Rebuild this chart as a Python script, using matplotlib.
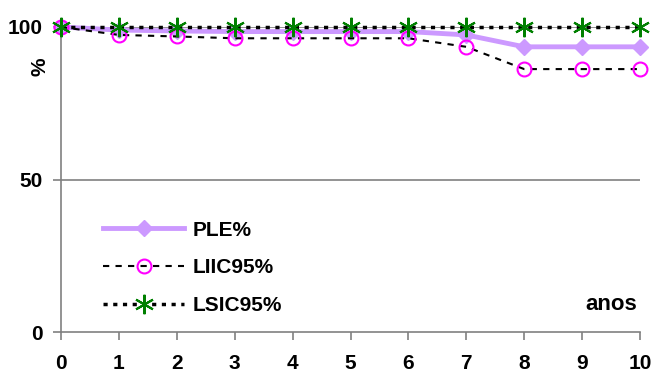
import matplotlib
matplotlib.use("Agg")
import matplotlib.pyplot as plt

years = [0, 1, 2, 3, 4, 5, 6, 7, 8, 9, 10]
ple = [100, 99.0, 98.7, 98.5, 98.5, 98.5, 98.5, 97.4, 93.5, 93.5, 93.5]
liic = [100, 97.4, 96.9, 96.3, 96.3, 96.3, 96.3, 93.5, 86.2, 86.2, 86.2]
lsic = [100, 100, 100, 100, 100, 100, 100, 100, 100, 100, 100]
yticks = [0, 50, 100]

plt.rcParams['font.family'] = ['Liberation Sans', 'DejaVu Sans']
plt.rcParams['font.weight'] = 'bold'

fig = plt.figure(figsize=(6.51, 3.74), dpi=100)
ax = fig.add_axes([61/651, 42/374, 579/651, 305/374])

gray = '#808080'
for v in [50, 100]:
    ax.axhline(v, color=gray, lw=1.2, zorder=1)

ax.plot(years, ple, color='#CC99FF', lw=3.5, marker='D', ms=8, mec='#CC99FF',
        mfc='#CC99FF', label='PLE%', zorder=3, clip_on=False)
ax.plot(years, liic, color='black', lw=1.5, ls=(0, (3, 3)), marker='o', ms=10,
        mfc='none', mec='#FF00FF', mew=1.5, label='LIIC95%', zorder=4, clip_on=False)
ax.plot(years, lsic, color='black', lw=2.5, ls=(0, (1.2, 1.6)), marker=(6, 2, 0), ms=14,
        mec='#008000', mew=1.5, label='LSIC95%', zorder=5, clip_on=False)

ax.set_xlim(0, 10)
ax.set_ylim(0, 100)
ax.set_xticks(years)
ax.set_yticks(yticks)
ax.tick_params(axis='both', direction='out', length=6, width=1.2, color=gray,
               labelsize=15)
ax.tick_params(axis='x', pad=10)
ax.tick_params(axis='y', pad=7)
for lab in ax.get_xticklabels() + ax.get_yticklabels():
    lab.set_fontweight('bold')
for s in ['top', 'right']:
    ax.spines[s].set_visible(False)
for s in ['left', 'bottom']:
    ax.spines[s].set_color(gray)
    ax.spines[s].set_linewidth(1.2)

ax.text(-0.036, 0.87, '%', transform=ax.transAxes, rotation=90, ha='center',
        va='center', fontsize=15, fontweight='bold')

ax.text(0.995, 0.089, 'anos', transform=ax.transAxes, ha='right', va='center',
        fontsize=16, fontweight='bold')

leg = ax.legend(loc='upper left', bbox_to_anchor=(0.0725, 0.365), frameon=False,
                fontsize=15, handlelength=3.9, labelspacing=0.9, handletextpad=0.4,
                borderpad=0, borderaxespad=0)
for t in leg.get_texts():
    t.set_fontweight('bold')

fig.savefig('out.png', dpi=100)
